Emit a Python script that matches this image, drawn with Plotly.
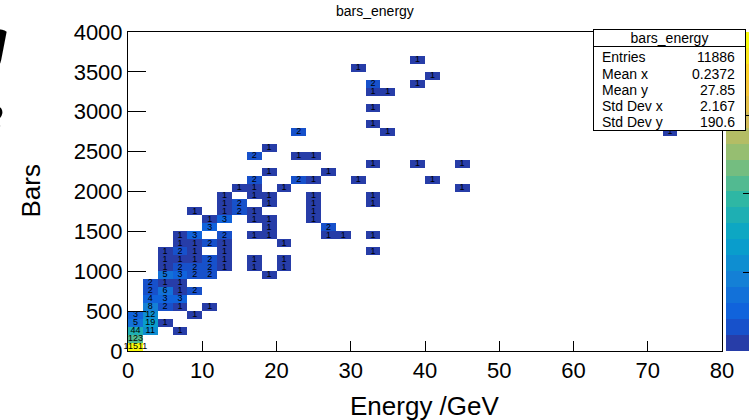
import numpy as np
import plotly.graph_objects as go

# ---------------- data ----------------
# 2D histogram "bars_energy": energy bins of 2 GeV (0-80), bars bins of 100 (0-4000)
x_bin_edges = np.arange(0, 82, 2)
y_bin_edges = np.arange(0, 4100, 100)

# non-empty cells: energy bin index, bars bin index, count
cell_ix = [0, 0, 0, 1, 3, 0, 1, 2, 0, 1, 4, 1, 2, 3, 5, 1, 2, 3, 1, 2, 3, 4, 1, 2, 3,
           2, 3, 4, 5, 9, 2, 3, 4, 5, 6, 8, 10, 2, 3, 4, 5, 6, 8, 10, 2, 3, 4, 6, 16,
           3, 4, 5, 6, 10, 3, 4, 6, 8, 9, 13, 14, 16, 5, 9, 13, 5, 6, 8, 9, 12,
           4, 6, 7, 8, 12, 6, 7, 9, 12, 16, 6, 8, 9, 12, 16, 7, 8, 10, 22,
           8, 11, 12, 15, 20, 9, 13, 16, 19, 22, 8, 11, 12, 9, 11, 17, 36, 16, 16,
           16, 17, 16, 19, 20, 15, 19]
cell_iy = [0, 1, 2, 2, 2, 3, 3, 3, 4, 4, 4, 5, 5, 5, 5, 6, 6, 6, 7, 7, 7, 7, 8, 8, 8,
           9, 9, 9, 9, 9, 10, 10, 10, 10, 10, 10, 10, 11, 11, 11, 11, 11, 11, 11, 12, 12, 12, 12, 12,
           13, 13, 13, 13, 13, 14, 14, 14, 14, 14, 14, 14, 14, 15, 15, 15, 16, 16, 16, 16, 16,
           17, 17, 17, 17, 17, 18, 18, 18, 18, 18, 19, 19, 19, 19, 19, 20, 20, 20, 20,
           21, 21, 21, 21, 21, 22, 22, 23, 23, 23, 24, 24, 24, 25, 27, 27, 27, 28, 30,
           32, 32, 33, 33, 34, 35, 36]
cell_counts = [11511, 123, 44, 11, 1, 5, 19, 1, 3, 12, 1, 8, 2, 1, 1, 4, 3, 3, 2, 6, 1, 2, 2, 1, 1,
               5, 3, 2, 2, 1, 1, 2, 2, 2, 1, 1, 1, 1, 1, 1, 2, 1, 1, 1, 1, 2, 1, 1, 1,
               1, 1, 2, 1, 1, 1, 3, 2, 1, 1, 1, 1, 1, 3, 1, 2, 1, 3, 1, 1, 1,
               1, 1, 2, 1, 1, 1, 2, 1, 1, 1, 1, 1, 1, 1, 1, 1, 1, 1, 1,
               2, 2, 1, 1, 1, 1, 1, 1, 1, 1, 2, 1, 1, 1, 2, 1, 1, 1, 1,
               1, 1, 2, 1, 1, 1, 1]

stats_labels = ["Entries", "Mean x", "Mean y", "Std Dev x", "Std Dev y"]
stats_values = ["11886", "0.2372", "27.85", "2.167", "190.6"]

# ---------------- build matrix ----------------
xc = (x_bin_edges[:-1] + x_bin_edges[1:]) / 2
yc = (y_bin_edges[:-1] + y_bin_edges[1:]) / 2
nx, ny = len(xc), len(yc)
z = [[None] * nx for _ in range(ny)]
for ix, iy, c in zip(cell_ix, cell_iy, cell_counts):
    z[iy][ix] = np.log10(c)
zmax = np.log10(max(cell_counts))
txt_x = [xc[i] for i in cell_ix]
txt_y = [yc[j] for j in cell_iy]
txt_s = [str(c) for c in cell_counts]

# ROOT kBird palette, 20 contour levels
stops = [0.0, 0.125, 0.25, 0.375, 0.5, 0.625, 0.75, 0.875, 1.0]
red = [0.2082, 0.0592, 0.0780, 0.0232, 0.1802, 0.5301, 0.8186, 0.9956, 0.9764]
green = [0.1664, 0.3599, 0.5041, 0.6419, 0.7178, 0.7492, 0.7328, 0.7862, 0.9832]
blue = [0.5293, 0.8684, 0.8385, 0.7914, 0.6425, 0.4662, 0.3499, 0.1968, 0.0539]
ncont = 20
cscale = []
for k in range(ncont):
    f = int((k + 0.99) * 255 / ncont) / 254.0
    f = min(f, 1.0)
    r = np.interp(f, stops, red); g = np.interp(f, stops, green); b = np.interp(f, stops, blue)
    col = "rgb(%d,%d,%d)" % (round(r * 255), round(g * 255), round(b * 255))
    cscale.append([k / ncont, col])
    cscale.append([(k + 1) / ncont, col])

# ---------------- geometry helpers ----------------
L, R, T, B = 128, 722, 32, 351
W, H = 749, 420
def PX(px):
    return (px - L) / (R - L)
def PY(py):
    return (B - py) / (B - T)

FONT = "Liberation Sans, Arial, Helvetica, sans-serif"

fig = go.Figure()
fig.add_trace(go.Heatmap(
    x=xc, y=yc, z=z,
    colorscale=cscale, zmin=0, zmax=zmax, hoverongaps=False,
    colorbar=dict(
        xref="container", x=726 / W, xanchor="left", xpad=0,
        yref="paper", y=0.5, yanchor="middle", len=1, lenmode="fraction", ypad=0,
        thickness=26, outlinewidth=0,
        tickmode="array", tickvals=[1, 2, 3], ticks="inside", ticklen=9,
        tickcolor="black", showticklabels=False,
    ),
))
fig.add_trace(go.Scatter(
    x=txt_x, y=txt_y, text=txt_s, mode="text", textposition="middle center",
    textfont=dict(family=FONT, size=9, color="black"), hoverinfo="skip",
    cliponaxis=False,
))

fig.update_layout(
    width=W, height=H,
    margin=dict(l=L, r=W - R, t=T, b=H - B, autoexpand=False),
    paper_bgcolor="white", plot_bgcolor="white",
    font=dict(family=FONT, color="black"),
    showlegend=False,
)
fig.update_xaxes(
    range=[0, 80], tickvals=list(range(0, 81, 10)), ticks="inside", ticklen=10,
    tickcolor="black", showline=True, linecolor="black", linewidth=1, mirror=True,
    showgrid=False, zeroline=False, tickfont=dict(size=22, family=FONT),
)
fig.update_yaxes(
    range=[0, 4000], tickvals=list(range(0, 4001, 500)), ticks="inside", ticklen=18,
    tickcolor="black", showline=True, linecolor="black", linewidth=1, mirror=True,
    showgrid=False, zeroline=False, tickfont=dict(size=22, family=FONT),
)

ann = []
# axis titles & main title
ann.append(dict(text="Energy /GeV", xref="paper", yref="paper", x=0.5, y=PY(406),
                xanchor="center", yanchor="middle", showarrow=False, font=dict(size=26)))
ann.append(dict(text="Bars", xref="paper", yref="paper", x=PX(30), y=0.5, textangle=-90,
                xanchor="center", yanchor="middle", showarrow=False, font=dict(size=26)))
ann.append(dict(text="bars_energy", xref="paper", yref="paper", x=PX(374.5), y=PY(11),
                xanchor="center", yanchor="middle", showarrow=False, font=dict(size=14)))
# cut-off glyphs at the left edge of the canvas
ann.append(dict(text="g", xref="paper", yref="paper", x=PX(11), y=PY(40),
                xanchor="right", yanchor="middle", showarrow=False,
                font=dict(size=58, family="DejaVu Serif", weight="bold", style="italic")))
ann.append(dict(text="e", xref="paper", yref="paper", x=PX(7), y=PY(115),
                xanchor="right", yanchor="middle", showarrow=False,
                font=dict(size=58, family="DejaVu Serif", weight="bold", style="italic")))

# stats box (annotations so it sits above the colour bar)
bx0, bx1, by0, by1 = 593, 746, 29, 131
ann.append(dict(text=" ", xref="paper", yref="paper", x=PX((bx0 + bx1) / 2), y=PY((by0 + by1) / 2),
                xanchor="center", yanchor="middle", showarrow=False,
                width=bx1 - bx0 - 2, height=by1 - by0 - 2, borderpad=0,
                bgcolor="white", bordercolor="black", borderwidth=1))
ann.append(dict(text="bars_energy", xref="paper", yref="paper", x=PX((bx0 + bx1) / 2),
                y=PY((by0 + 47) / 2), xanchor="center", yanchor="middle", showarrow=False,
                width=bx1 - bx0 - 2, height=47 - by0 - 2, borderpad=0,
                bgcolor="white", bordercolor="black", borderwidth=1, font=dict(size=14)))
row_y = [57, 74, 90, 106, 122]
for lab, val, yy in zip(stats_labels, stats_values, row_y):
    ann.append(dict(text=lab, xref="paper", yref="paper", x=PX(600), y=PY(yy),
                    xanchor="left", yanchor="middle", showarrow=False, font=dict(size=14)))
    ann.append(dict(text=val, xref="paper", yref="paper", x=PX(737), y=PY(yy),
                    xanchor="right", yanchor="middle", showarrow=False, font=dict(size=14)))
fig.update_layout(annotations=ann)

fig.write_html("out.html")
